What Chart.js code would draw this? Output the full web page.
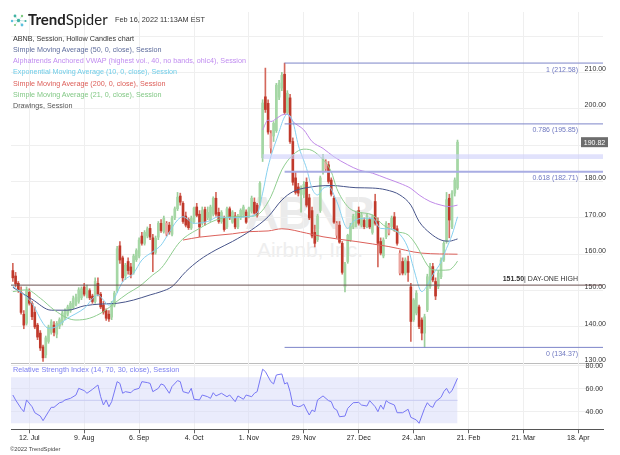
<!DOCTYPE html>
<html>
<head>
<meta charset="utf-8">
<title>ABNB - Hollow Candles</title>
<script src="https://cdn.jsdelivr.net/npm/chart.js@4.4.1/dist/chart.umd.min.js"></script>
<style>
  body { margin: 0; background: #fff; font-family: "Liberation Sans", Arial, sans-serif; }
  #wrap { position: relative; width: 620px; height: 455px; overflow: hidden; }
  canvas { position: absolute; left: 0; }
  #priceChart { top: 12px; }
  #rsiChart { top: 363px; }
  .abs { position: absolute; white-space: nowrap; }
  #mark1 { left: 0; width: 620px; top: 190px; text-align: center; font: bold 47px/46px "Liberation Sans", Arial, sans-serif; letter-spacing: -1.5px; color: #ebebeb; }
  #mark2 { left: 0; width: 620px; top: 239px; text-align: center; font: 21px/21px "Liberation Sans", Arial, sans-serif; color: #eeeeee; }
  #logo { position: absolute; left: 10px; top: 13px; }
  #brand { left: 28px; top: 11.7px; font: 15px/15px Lato, sans-serif; color: #222; }
  #brand b { font-weight: 700; }
  #stamp { left: 115px; top: 16.3px; font-size: 7.3px; line-height: 8px; color: #333; }
  #legend { left: 13px; top: 32.5px; font-size: 7.2px; line-height: 11.3px; }
  #rsiLegend { left: 13px; top: 364.5px; font-size: 7.3px; line-height: 10px; color: #7d80f0; }
  #copy { left: 10px; top: 446px; font-size: 5.8px; line-height: 6px; color: #444; }
</style>
</head>
<body>
<div id="wrap">
  <div class="abs" id="mark1">ABNB</div>
  <div class="abs" id="mark2">Airbnb, Inc.</div>
  <canvas id="priceChart" width="620" height="352"></canvas>
  <canvas id="rsiChart" width="620" height="92"></canvas>

  <svg id="logo" width="17" height="15" viewBox="0 0 17 15">
    <g stroke="#9fd3cf" stroke-width="0.5">
      <line x1="8.5" y1="7.5" x2="2" y2="8"/><line x1="8.5" y1="7.5" x2="5" y2="3"/>
      <line x1="8.5" y1="7.5" x2="5" y2="12"/><line x1="8.5" y1="7.5" x2="12" y2="3"/>
      <line x1="8.5" y1="7.5" x2="12" y2="12"/><line x1="8.5" y1="7.5" x2="15.5" y2="8"/>
    </g>
    <circle cx="2" cy="8" r="1.2" fill="#5bc0de"/>
    <circle cx="5" cy="3" r="1.4" fill="#41b3a3"/>
    <circle cx="5" cy="12" r="1.1" fill="#7fc97f"/>
    <circle cx="8.5" cy="7.5" r="1.7" fill="#41b3a3"/>
    <circle cx="12" cy="3" r="1.2" fill="#7fc97f"/>
    <circle cx="12" cy="12" r="1.4" fill="#5bc0de"/>
    <circle cx="15.5" cy="8" r="1.1" fill="#41b3a3"/>
  </svg>
  <div class="abs" id="brand"><b>Trend</b>Spider</div>
  <div class="abs" id="stamp">Feb 16, 2022 11:13AM EST</div>
  <div class="abs" id="legend">
    <div style="color:#333">ABNB, Session, Hollow Candles chart</div>
    <div style="color:#5e6c9c">Simple Moving Average (50, 0, close), Session</div>
    <div style="color:#c08cf0">Alphatrends Anchored VWAP (highest vol., 40, no bands, ohlc4), Session</div>
    <div style="color:#70cde8">Exponential Moving Average (10, 0, close), Session</div>
    <div style="color:#dc5d57">Simple Moving Average (200, 0, close), Session</div>
    <div style="color:#82c885">Simple Moving Average (21, 0, close), Session</div>
    <div style="color:#555">Drawings, Session</div>
  </div>
  <div class="abs" id="rsiLegend">Relative Strength Index (14, 70, 30, close), Session</div>
  <div class="abs" id="copy">©2022 TrendSpider</div>
</div>

<script>
// x axis = trading-day index, day 0 = 12 Jul 2021
const dayTicks = [0, 20, 40, 60, 80, 100, 120, 140, 160, 180, 200];
const dayLabels = ['12. Jul', '9. Aug', '6. Sep', '4. Oct', '1. Nov', '29. Nov', '27. Dec', '24. Jan', '21. Feb', '21. Mar', '18. Apr'];
const firstDay = -6;
const dayMin = -6.67;
const dayMax = 209;

// candles, one value per trading day starting at firstDay
const opens = [
  155.5, 154, 152, 149.5, 143.5, 141, 149.5, 146.5, 144, 140.5,
  138.3, 134.5, 132.3, 136, 138.5, 140.5, 138, 140.2, 141.2, 142.5,
  143.5, 144.5, 145.3, 146.2, 147, 148, 151, 148.5, 150, 148.5,
  147, 152, 149, 146, 144.5, 143.5, 142.7, 146, 150, 162.3,
  159, 154, 158, 156.5, 155, 158.5, 159.5, 165, 163, 165,
  167.1, 164.5, 160.5, 164.7, 168.5, 166.2, 165.5, 168, 165.5, 170,
  172.5, 176, 174, 170.5, 169.5, 167.2, 169, 173, 171, 168.5,
  172.3, 170, 169.5, 171, 175.4, 171.5, 169, 170, 167.5, 172.5,
  168.8, 170.5, 167.5, 170, 170.7, 171.6, 170.5, 171.8, 174.3, 173.5,
  174.3, 186.5, 203.3, 201.5, 189.2, 192.5, 194, 203.2, 205.7, 209.5,
  199, 203, 191, 181, 178.5, 176.3, 176.5, 179.8, 175.5, 172,
  166, 164, 172, 182.7, 183.5, 184.6, 180.4, 175.4, 165.2, 168,
  163, 151, 158, 164, 167.5, 168.5, 172, 168, 169.3, 167.8,
  169.5, 166, 174.5, 169, 163.5, 159.5, 164.8, 165.8, 167.6, 170.3,
  167, 154.8, 158, 154.8, 158, 151, 142, 143.8, 145.5, 141.9,
  138.3, 144.7, 151.1, 156.6, 152.5, 151.1, 153.8, 158.4, 163.5, 175.4,
  167.5, 176.8, 178.2
];
const highs = [
  157.5, 155, 152.5, 151, 144.5, 151, 150.5, 147, 145.5, 141,
  139, 135, 137.5, 140.5, 142, 141.5, 141.5, 142.5, 144.3, 145,
  146, 147, 148.5, 149, 150.8, 151, 152, 151.5, 150.5, 149,
  153.5, 153.5, 149.5, 147, 145, 144.5, 147, 149.8, 162.2, 163.5,
  159.5, 157.5, 159, 157.5, 160, 161.5, 164.5, 166, 166.5, 167.5,
  168.2, 165.5, 165, 169, 169.5, 170.5, 169, 168.8, 170.5, 173,
  177, 176.8, 174.5, 171.6, 170, 170.5, 173, 174, 172, 173,
  173, 173, 173.5, 175.8, 177, 172.7, 172, 170.5, 173, 173,
  172, 171.5, 171, 172.5, 173.5, 172.2, 173, 176, 175.5, 174,
  180, 202.5, 211.2, 202.5, 194, 196.5, 207, 207.8, 210, 212.58,
  205, 204, 192, 182.5, 179.5, 178.8, 180, 181, 176.5, 173,
  168, 171, 181.5, 187.5, 186, 185.5, 181, 176, 169, 169,
  163.5, 157.8, 165.5, 168.5, 171, 171.5, 173, 171.5, 170, 171,
  170, 170.8, 176.5, 170, 164.5, 164.5, 169, 168.5, 170.5, 171.5,
  167.8, 161, 159, 159, 159.5, 152, 147.8, 150, 146, 142.5,
  143.5, 154.5, 157.5, 157.5, 153.5, 155.5, 159, 163.5, 177, 176.5,
  177.5, 181, 191.4
];
const lows = [
  152.5, 151, 149.5, 143.5, 139.5, 140.5, 146, 142, 139.5, 136.5,
  133.5, 130.5, 131.5, 135.5, 138, 137.5, 137, 139.5, 140.5, 142,
  143, 144, 145, 145.8, 146.5, 147.5, 148.5, 148, 147.5, 146.5,
  146.5, 148.5, 145, 143.5, 141.8, 141.5, 142, 145.5, 149.5, 157.5,
  152.5, 153, 154.5, 153.5, 154.5, 158, 159, 162.5, 162.5, 164.5,
  164, 155.2, 160, 164, 166, 165.8, 165, 165.5, 165, 169.5,
  172, 173.5, 168.5, 167.5, 166.8, 166.8, 168.5, 170.3, 164.8, 168,
  168, 169.5, 169, 170.5, 170.5, 168.5, 168.5, 166.3, 167, 169.5,
  168.5, 167, 167, 169.5, 170.2, 168.5, 170, 171.3, 171, 170.2,
  173.5, 185.5, 199, 193, 187.8, 191, 193.5, 202.5, 205, 198.5,
  198.5, 190.5, 179, 176.5, 176, 171.6, 175.5, 173, 169.5, 164.5,
  162, 163.5, 171.5, 182, 183, 179.5, 176, 168.5, 164.5, 163,
  154.5, 149.6, 157.5, 163.5, 167, 167.5, 168, 167.5, 167, 167.3,
  167, 165.5, 168, 156.5, 159.8, 159, 164.3, 165.3, 167, 166.3,
  162.5, 154.3, 154.3, 154.3, 152.5, 136, 141.5, 143.3, 139.5, 136.4,
  134.37, 144.2, 150.6, 152.4, 147.5, 150.5, 153.3, 158, 163, 164.5,
  167, 176, 177.8
];
const closes = [
  153.5, 151.8, 150.2, 144, 140.5, 150, 146.5, 142.8, 140, 137.2,
  134.2, 131.5, 137, 140, 141.4, 138.5, 141, 142, 143.8, 144.5,
  145.5, 146.5, 147.8, 148.2, 150.2, 150.5, 149, 150.5, 148, 147,
  152.5, 149, 145.5, 144.1, 142.4, 142.2, 146.5, 149.3, 161.5, 158.4,
  153.5, 157, 155.5, 154.3, 159.5, 161, 163.9, 163, 166, 167,
  164.7, 160, 164.4, 168.5, 166.5, 169.9, 168.5, 166.1, 169.9, 172.5,
  175.7, 174.3, 169, 168, 167.3, 169.9, 172.7, 170.7, 167.5, 172,
  169, 171.5, 173, 175.4, 171, 169, 171.5, 166.8, 172.5, 170,
  171.6, 167.5, 170.5, 172.1, 173, 168.8, 172.7, 175.4, 171.3, 170.7,
  179.5, 201.6, 199.8, 193.6, 193.2, 196, 206.5, 207.1, 209.2, 199,
  204.3, 191, 179.8, 177, 176.8, 178, 179.2, 173.5, 170, 165,
  163, 170.5, 181, 186.5, 185.5, 180, 176.5, 168.8, 168.5, 163.3,
  155, 157.3, 165.2, 167.8, 170.5, 171, 168.5, 170.8, 167.6, 170.5,
  167.5, 170.3, 168.5, 163, 160.3, 163.9, 168.5, 168, 169.9, 166.7,
  163, 160.3, 154.8, 158.4, 155, 141.5, 147.4, 149.3, 140.1, 138.3,
  142.8, 153.8, 156.6, 152.9, 148.5, 154.8, 158.4, 163, 175, 169.4,
  176.8, 180.4, 190.82
];

// indicator lines, read at sample days
const sma50Days = [-6, 1, 8, 14, 20, 26, 32, 38, 44, 48, 52, 57, 62, 68, 74, 81, 87, 92, 96, 101, 110, 119, 125, 130, 135, 139, 142, 146, 150, 153, 156];
const sma50 = [150.9, 147.6, 144.6, 144.6, 145.8, 146.3, 146.5, 147.4, 148.8, 149.7, 151.1, 155.2, 158.4, 161.2, 163.5, 166.7, 170.3, 174.9, 177.2, 178.3, 178.9, 178.3, 178.2, 177.7, 176.3, 173.5, 169, 165.8, 163.9, 163.6, 164.2];
const sma200Days = [56, 62, 74, 80, 87, 92, 101, 107, 119, 131, 143, 156];
const sma200 = [163.9, 164.7, 165.6, 166.2, 166.4, 167, 165.8, 164.8, 163.5, 162.1, 160.3, 160];
const ema10Days = [-6, 1, 5, 7, 9, 14, 20, 25, 27, 29, 31, 34, 38, 41, 45, 48, 50, 54, 56, 60, 65, 69, 74, 79, 83, 85, 87, 90, 94, 96, 98, 101, 103, 105, 107, 109, 112, 116, 118, 122, 125, 128, 131, 134, 138, 140, 143, 145, 147, 150, 152, 154, 156];
const ema10 = [151.3, 146.5, 141, 139.6, 139.8, 142.4, 145.1, 148.8, 147.4, 146, 147.9, 152.4, 154.8, 158.4, 160.7, 162.5, 164.8, 169.4, 170.3, 168.5, 169, 170.3, 170, 170.3, 171.3, 176.8, 184.1, 191.4, 198.5, 196.5, 190, 183.6, 178.1, 176.3, 178.1, 178.6, 174.5, 167.1, 169, 169.9, 169.9, 167.1, 167, 166.2, 161.6, 156.1, 149.7, 151.5, 154.3, 157.9, 161.6, 165.3, 170.3];
const sma21Days = [-6, -1, 4, 9, 14, 17, 22, 27, 31, 36, 40, 45, 48, 55, 62, 68, 74, 80, 84, 88, 92, 96, 100, 102, 106, 110, 112, 116, 119, 125, 129, 134, 138, 141, 145, 147, 150, 153, 155, 156];
const sma21 = [149.7, 150.2, 147.9, 144.7, 142.4, 141.9, 142.4, 144.2, 146.5, 149.3, 151.1, 154.3, 156.1, 163.5, 167.1, 169.4, 170.3, 170.4, 171.3, 175.8, 183.2, 187.3, 188.9, 188.8, 186.8, 182.7, 178.1, 173.1, 171.7, 170.8, 168, 166.2, 165.3, 162.5, 157, 155.7, 155.6, 155.7, 157, 158.1];
const vwapDays = [85, 87, 88, 90, 92, 94, 96, 100, 103, 107, 111, 116, 120, 125, 130, 135, 139, 142, 146, 150, 153, 156];
const vwap = [194.2, 196.9, 196.5, 197.3, 198.3, 198.5, 196.5, 194.2, 191, 189.1, 186.8, 184.6, 183.2, 182.3, 180.9, 179.5, 178.1, 176.3, 174.5, 173.5, 173.1, 173.5];

// drawings
const fibLevels = [212.58, 195.85, 182.71, 134.37];
const fibNames = ['1', '0.786', '0.618', '0'];
const fibStartDay = 93;
const zoneLow = 186.2;
const zoneHigh = 187.5;
const zoneStartDay = 85;
const dayOneHigh = 151.5;

// RSI
const rsiDays = [-6, -5, -3, -2, -1, 1, 2, 4, 5, 7, 8, 9, 11, 12, 13, 15, 17, 18, 20, 21, 23, 25, 26, 27, 28, 29, 30, 32, 33, 34, 35, 37, 38, 40, 41, 43, 44, 45, 47, 48, 49, 51, 52, 54, 55, 56, 58, 59, 60, 62, 63, 65, 66, 67, 68, 70, 72, 73, 75, 76, 78, 79, 81, 82, 83, 85, 86, 88, 89, 90, 92, 93, 94, 95, 96, 98, 99, 100, 101, 102, 103, 104, 105, 107, 109, 110, 111, 112, 113, 115, 116, 118, 120, 121, 123, 124, 126, 127, 128, 129, 130, 131, 133, 134, 136, 138, 139, 141, 142, 144, 145, 146, 147, 148, 150, 151, 152, 153, 154, 156];
const rsiValues = [54.6, 50.3, 43, 40.1, 50.3, 44.4, 39.2, 36.3, 32.3, 40.1, 43.9, 43.9, 47.9, 48.5, 50.3, 51.7, 54.6, 60.4, 58.4, 56.1, 59.5, 63.3, 53.1, 45.9, 50.3, 44.4, 48.8, 66.2, 64.7, 56.1, 57.5, 56.6, 59, 60.4, 66.2, 65.4, 64.7, 57.5, 60.4, 64.2, 63.3, 56.1, 62, 67.1, 66.2, 57.5, 56.1, 60.4, 50.9, 50.3, 54.6, 53.1, 51.7, 56.6, 53.8, 56.1, 53.1, 54.6, 48.8, 53.8, 50.9, 54.6, 53.1, 56.1, 57.5, 77, 75, 66.2, 64.2, 72, 72.9, 64.2, 65.4, 57.5, 45.9, 44.4, 45, 46.6, 41.6, 37.2, 41.6, 40.1, 50.3, 53.8, 49.7, 48.8, 43, 41.6, 35.7, 36.3, 43, 47.9, 48.2, 45.9, 45, 49.7, 44.4, 40.1, 45.9, 42.2, 49.7, 47.9, 45.9, 39.2, 39.2, 42.2, 35.2, 32.9, 30, 43, 47.9, 45, 43.9, 48.8, 52.6, 57.5, 60.4, 56.1, 58.4, 69.1];
const rsiLower = 30, rsiMid = 50, rsiUpper = 70;

// axis ticks
const priceTicks = [130, 140, 150, 160, 170, 180, 190, 200, 210, 220];
const priceLabelMax = 210;
const rsiTicks = [40, 60, 80];

const FONT = '"Liberation Sans", Arial, sans-serif';
Chart.defaults.font.family = FONT;

const days = closes.map((c, k) => firstDay + k);
const lastDay = days[days.length - 1];

// hollow candles: colour from close vs previous close, fill from close vs open
const upDay = closes.map((c, k) => k === 0 ? c >= opens[k] : c >= closes[k - 1]);
const bodyColors = closes.map((c, k) => {
    const hollow = c >= opens[k];
    if (upDay[k]) return hollow ? '#a5d7a5' : '#63b163';
    return hollow ? '#eba59f' : '#c0392b';
});
const wickColors = upDay.map(u => u ? '#9ccf9c' : '#d4685c');

function series(xs, ys, color, order) {
    return {
        type: 'line',
        data: xs.map((x, k) => ({ x: x, y: ys[k] })),
        borderColor: color,
        borderWidth: 1,
        pointRadius: 0,
        cubicInterpolationMode: 'monotone',
        order: order
    };
}

function level(from, to, value, color, width, order) {
    return {
        type: 'line',
        data: [{ x: from, y: value }, { x: to, y: value }],
        borderColor: color,
        borderWidth: width,
        pointRadius: 0,
        order: order
    };
}

function zeroPad(scale) {
    scale.paddingTop = 0;
    scale.paddingBottom = 0;
    scale.paddingLeft = 0;
    scale.paddingRight = 0;
}

// price zone, labels for the drawings and last price box
const drawingLabels = {
    id: 'drawingLabels',
    afterDatasetsDraw(chart) {
        const { ctx, chartArea, scales: { x, y } } = chart;
        const right = chartArea.right - 25;
        ctx.save();

        const zx = x.getPixelForValue(zoneStartDay);
        const zTop = y.getPixelForValue(zoneHigh);
        const zBot = y.getPixelForValue(zoneLow);
        ctx.fillStyle = 'rgba(205, 207, 250, 0.6)';
        ctx.fillRect(zx, zTop, chartArea.right - zx, zBot - zTop);

        ctx.textAlign = 'right';
        ctx.textBaseline = 'middle';
        ctx.font = '7px ' + FONT;
        ctx.fillStyle = '#6f78c0';
        fibLevels.forEach((lvl, k) => {
            ctx.fillText(fibNames[k] + ' (' + lvl.toFixed(2) + ')', right, y.getPixelForValue(lvl) + 6.5);
        });

        const yh = y.getPixelForValue(dayOneHigh) - 6.5;
        const rest = '| DAY-ONE HIGH';
        ctx.fillStyle = '#333';
        ctx.fillText(rest, right, yh);
        const w = ctx.measureText(rest).width;
        ctx.font = 'bold 7px ' + FONT;
        ctx.fillText(dayOneHigh.toFixed(2), right - w, yh);

        const last = closes[closes.length - 1];
        const yl = y.getPixelForValue(last);
        ctx.fillStyle = '#6d6d6d';
        ctx.fillRect(chartArea.right - 22, yl - 5, 27, 10);
        ctx.fillStyle = '#fff';
        ctx.textAlign = 'center';
        ctx.font = '7px ' + FONT;
        ctx.fillText(last.toFixed(2), chartArea.right - 8.5, yl + 0.5);
        ctx.restore();
    }
};

// Price panel
new Chart(document.getElementById('priceChart'), {
    type: 'bar',
    data: {
        datasets: [
            {
                data: days.map((d, k) => ({ x: d, y: [lows[k], highs[k]] })),
                backgroundColor: wickColors,
                barThickness: 1,
                grouped: false,
                order: 20
            },
            {
                data: days.map((d, k) => ({ x: d, y: [opens[k], closes[k]] })),
                backgroundColor: bodyColors,
                barThickness: 2,
                minBarLength: 1,
                grouped: false,
                order: 19
            },
            series(sma200Days, sma200, '#dc605a', 6),
            series(sma50Days, sma50, '#48558a', 5),
            series(vwapDays, vwap, '#c08ae8', 4),
            series(sma21Days, sma21, '#8fcd8f', 3),
            series(ema10Days, ema10, '#86d0ef', 2),
            level(fibStartDay, dayMax, fibLevels[0], '#7d85c9', 1, 1),
            level(fibStartDay, dayMax, fibLevels[1], '#7d85c9', 1, 1),
            level(fibStartDay, dayMax, fibLevels[2], '#a9ade3', 2, 1),
            level(fibStartDay, dayMax, fibLevels[3], '#7d85c9', 1, 1),
            level(dayMin, dayMax, dayOneHigh, '#6a5050', 1, 1)
        ]
    },
    options: {
        responsive: false,
        animation: false,
        events: [],
        layout: { padding: { left: 11, right: 17, top: 0, bottom: 0 } },
        plugins: { legend: { display: false }, tooltip: { enabled: false } },
        scales: {
            x: {
                type: 'linear',
                min: dayMin,
                max: dayMax,
                offset: false,
                afterBuildTicks: s => { s.ticks = dayTicks.map(v => ({ value: v })); },
                afterFit: s => { s.height = 0; zeroPad(s); },
                grid: { color: '#efefef', drawTicks: false, offset: false },
                border: { display: false },
                ticks: { display: false }
            },
            y: {
                type: 'linear',
                position: 'right',
                min: 129.8,
                max: 226.63,
                afterBuildTicks: s => { s.ticks = priceTicks.map(v => ({ value: v })); },
                afterFit: s => { s.width = 0; zeroPad(s); },
                grid: {
                    color: c => c.tick && c.tick.value === priceTicks[0] ? '#bdbdbd' : '#efefef',
                    drawTicks: false
                },
                border: { display: false },
                ticks: {
                    mirror: true,
                    padding: 3,
                    labelOffset: -3.3,
                    color: '#333',
                    font: { size: 7 },
                    callback: v => v <= priceLabelMax ? v.toFixed(2) : ''
                }
            }
        }
    },
    plugins: [drawingLabels]
});

// RSI panel
new Chart(document.getElementById('rsiChart'), {
    type: 'line',
    data: {
        datasets: [
            {
                data: [{ x: dayMin, y: rsiUpper }, { x: lastDay, y: rsiUpper }],
                borderWidth: 0,
                pointRadius: 0,
                fill: '+1',
                backgroundColor: 'rgba(214, 217, 250, 0.5)',
                order: 10
            },
            {
                data: [{ x: dayMin, y: rsiLower }, { x: lastDay, y: rsiLower }],
                borderWidth: 0,
                pointRadius: 0,
                order: 10
            },
            {
                data: [{ x: dayMin, y: rsiMid }, { x: lastDay, y: rsiMid }],
                borderColor: '#c9cbf2',
                borderWidth: 1,
                pointRadius: 0,
                order: 5
            },
            {
                data: rsiDays.map((d, k) => ({ x: d, y: rsiValues[k] })),
                borderColor: '#7777f4',
                borderWidth: 1,
                pointRadius: 0,
                tension: 0,
                order: 1
            }
        ]
    },
    options: {
        responsive: false,
        animation: false,
        events: [],
        layout: { padding: { left: 11, right: 17, top: 0, bottom: 0 } },
        plugins: { legend: { display: false }, tooltip: { enabled: false } },
        scales: {
            x: {
                type: 'linear',
                min: dayMin,
                max: dayMax,
                afterBuildTicks: s => { s.ticks = dayTicks.map(v => ({ value: v })); },
                afterFit: s => { s.height = 25.7; zeroPad(s); },
                grid: { color: '#efefef', tickColor: '#666', tickLength: 4 },
                border: { display: true, color: '#555' },
                ticks: {
                    color: '#222',
                    font: { size: 7 },
                    padding: 1,
                    maxRotation: 0,
                    autoSkip: false,
                    callback: (v, i) => dayLabels[i]
                }
            },
            y: {
                type: 'linear',
                position: 'right',
                min: 24.79,
                max: 82.42,
                afterBuildTicks: s => { s.ticks = rsiTicks.map(v => ({ value: v })); },
                afterFit: s => { s.width = 0; zeroPad(s); },
                grid: { color: '#efefef', drawTicks: false },
                border: { display: false },
                ticks: {
                    mirror: true,
                    padding: 0,
                    labelOffset: 0.7,
                    color: '#333',
                    font: { size: 7 },
                    callback: v => v.toFixed(2)
                }
            }
        }
    }
});
</script>
</body>
</html>
